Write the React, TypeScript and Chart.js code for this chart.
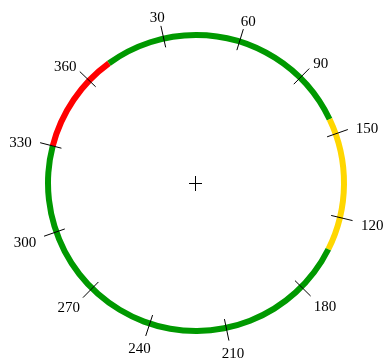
import React, { useEffect, useRef } from 'react';
import { Chart, registerables } from 'chart.js';

Chart.register(...registerables);

// Ring segments, clockwise from the top (degrees of arc each)
const segmentNames = ['normal-a', 'warning', 'normal-b', 'alarm', 'normal-c'];
const segmentSpans = [64.5, 52.1, 167.9, 39.5, 36];
const segmentColors = ['#009900', '#FFD700', '#009900', '#FF0000', '#009900'];

// Tick marks around the dial (angle clockwise from top, degrees) and their labels
const tickLabels = ['30', '60', '90', '150', '120', '180', '210', '240', '270', '300', '330', '360'];
const tickAngles = [-12.6, 17.1, 44.7, 70.6, 103.5, 134.6, 168.2, 198.2, 224.6, 250.7, 284.5, 313.8];

const overlayPlugin = {
  id: 'dialOverlay',
  afterDatasetsDraw(chart: any) {
    const meta = chart.getDatasetMeta(0);
    const arc = meta.data[0];
    if (!arc) return;
    const { x, y, innerRadius, outerRadius } = arc.getProps(['x', 'y', 'innerRadius', 'outerRadius'], true);
    const mid = (innerRadius + outerRadius) / 2;
    const ctx: CanvasRenderingContext2D = chart.ctx;
    ctx.save();
    ctx.strokeStyle = '#000';
    ctx.lineWidth = 1;

    // centre cross
    const cx = Math.round(x) - 0.5;
    const cy = Math.round(y) + 0.5;
    ctx.beginPath();
    ctx.moveTo(cx - 6.5, cy);
    ctx.lineTo(cx + 6.5, cy);
    ctx.moveTo(cx, cy - 7.5);
    ctx.lineTo(cx, cy + 7.5);
    ctx.stroke();

    const fontSize = 15;
    ctx.font = `${fontSize}px "Liberation Serif", "Times New Roman", serif`;
    ctx.fillStyle = '#000';
    ctx.textAlign = 'center';
    ctx.textBaseline = 'alphabetic';
    const capH = fontSize * 0.66;
    const rx = mid + 22;
    const ry = mid + 19;

    tickAngles.forEach((deg, i) => {
      const t = (deg * Math.PI) / 180;
      const sx = Math.sin(t);
      const sy = -Math.cos(t);
      ctx.beginPath();
      ctx.moveTo(x + sx * (mid - 9), y + sy * (mid - 9));
      ctx.lineTo(x + sx * (mid + 13), y + sy * (mid + 13));
      ctx.stroke();

      const label = tickLabels[i];
      const w = ctx.measureText(label).width;
      const lx = x + sx * rx + (sx * w) / 2;
      const ly = y + sy * ry + (sy * capH) / 2 + 2;
      ctx.fillText(label, lx, ly + capH / 2);
    });
    ctx.restore();
  },
};

export default function App() {
  const ref = useRef<HTMLCanvasElement | null>(null);
  useEffect(() => {
    if (!ref.current) return;
    const chart = new Chart(ref.current, {
      type: 'doughnut',
      data: {
        labels: segmentNames,
        datasets: [
          {
            data: segmentSpans,
            backgroundColor: segmentColors,
            borderWidth: 0,
            hoverOffset: 0,
          },
        ],
      },
      options: {
        animation: false,
        responsive: false,
        devicePixelRatio: 1,
        rotation: 0,
        circumference: 360,
        radius: 151,
        cutout: `${(145 / 151) * 100}%`,
        layout: { padding: { left: 9, right: 0, top: 4, bottom: 0 } },
        events: [],
        plugins: {
          legend: { display: false },
          tooltip: { enabled: false },
        },
      } as any,
      plugins: [overlayPlugin],
    });
    return () => chart.destroy();
  }, []);
  return (
    <canvas
      ref={ref}
      width={383}
      height={362}
      style={{ display: 'block', position: 'absolute', left: 0, top: 0 }}
    />
  );
}
